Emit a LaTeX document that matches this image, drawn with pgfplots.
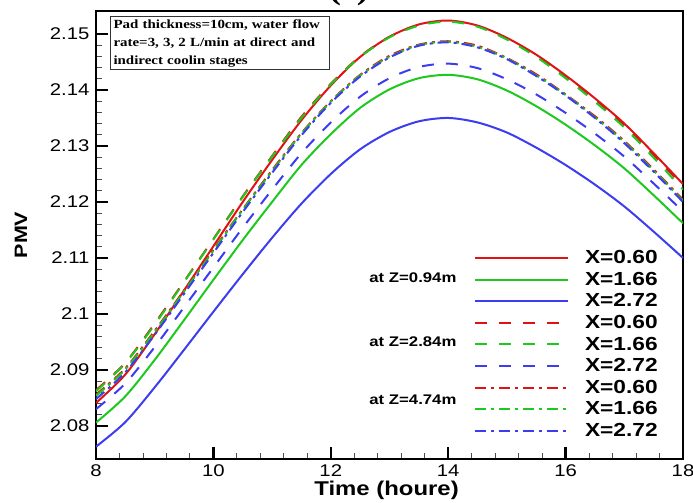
\documentclass[border=0pt]{standalone}
\usepackage{pgfplots}
\pgfplotsset{compat=1.18}
\usepackage{pgfplotstable}
\usepackage{fontspec}
\setmainfont{Liberation Sans}[FakeStretch=1.2]
\newfontfamily\boxserif{Liberation Serif}[FakeStretch=1.2]
\definecolor{cred}{RGB}{222,20,20}
\definecolor{cgreen}{RGB}{30,200,30}
\definecolor{cblue}{RGB}{60,60,240}
\pgfplotstableread{
t s1 s2 s3 s4 s5 s6 s7 s8 s9
8 2.0841 2.0806 2.0763 2.0864 2.0862 2.0830 2.0856 2.0854 2.0848
8.5 2.0892 2.0853 2.0807 2.0913 2.0912 2.0876 2.0903 2.0901 2.0896
9 2.0964 2.0918 2.0869 2.0983 2.0981 2.0941 2.0970 2.0968 2.0963
9.5 2.1042 2.0989 2.0936 2.1058 2.1057 2.1012 2.1042 2.1040 2.1036
10 2.1121 2.1061 2.1004 2.1134 2.1133 2.1083 2.1115 2.1113 2.1109
10.5 2.1200 2.1132 2.1071 2.1210 2.1209 2.1154 2.1187 2.1186 2.1182
11 2.1275 2.1200 2.1136 2.1282 2.1281 2.1222 2.1257 2.1255 2.1252
11.5 2.1346 2.1266 2.1197 2.1352 2.1350 2.1287 2.1323 2.1322 2.1319
12 2.1408 2.1321 2.1250 2.1411 2.1410 2.1342 2.1380 2.1379 2.1377
12.5 2.1459 2.1368 2.1294 2.1460 2.1459 2.1388 2.1427 2.1426 2.1424
13 2.1495 2.1401 2.1325 2.1495 2.1494 2.1421 2.1461 2.1459 2.1458
13.5 2.1517 2.1421 2.1344 2.1516 2.1515 2.1441 2.1481 2.1480 2.1479
14 2.1524 2.1427 2.1350 2.1523 2.1522 2.1447 2.1487 2.1486 2.1485
14.5 2.1515 2.1419 2.1342 2.1514 2.1513 2.1439 2.1479 2.1477 2.1476
15 2.1493 2.1399 2.1324 2.1492 2.1490 2.1419 2.1457 2.1456 2.1455
15.5 2.1463 2.1371 2.1297 2.1461 2.1459 2.1392 2.1428 2.1426 2.1425
16 2.1426 2.1338 2.1266 2.1424 2.1421 2.1359 2.1392 2.1391 2.1390
16.5 2.1385 2.1301 2.1231 2.1383 2.1379 2.1322 2.1353 2.1351 2.1350
17 2.1340 2.1260 2.1192 2.1337 2.1333 2.1281 2.1309 2.1307 2.1305
17.5 2.1287 2.1212 2.1147 2.1284 2.1279 2.1233 2.1258 2.1256 2.1254
18 2.1232 2.1162 2.1100 2.1228 2.1222 2.1183 2.1204 2.1202 2.1200
}\data
\begin{document}
\begin{tikzpicture}
\begin{axis}[
  scale only axis,
  width=587bp, height=448bp,
  xmin=8, xmax=18, ymin=2.0741, ymax=2.1541,
  xtick={8,10,...,18},
  ytick={2.08,2.09,2.1,2.11,2.12,2.13,2.14,2.15},
  minor x tick num=4, minor y tick num=4,
  tick align=inside,
  xtick pos=bottom, ytick pos=left,
  major tick length=12bp, minor tick length=6bp,
  every major tick/.append style={line width=2.4bp, black},
  every minor tick/.append style={line width=0.9bp, black!70},
  axis line style={line width=2bp},
  /pgf/number format/assume math mode=true,
  /pgf/number format/precision=3,
  tick label style={font=\fontsize{17}{17}\selectfont},
  yticklabel style={xshift=-3bp},
  xticklabel style={yshift=-2bp},
  xlabel={\textbf{Time (houre)}},
  ylabel={\textbf{PMV}},
  xlabel style={font=\fontsize{20}{20}\selectfont, at={(axis description cs:0.495,-0.0815)}, anchor=base},
  ylabel style={font=\fontsize{18}{18}\selectfont, at={(axis description cs:-0.1278,0.5)}, anchor=center},
  title={\boxserif\bfseries (c)},
  title style={font=\fontsize{30}{30}\selectfont, at={(axis description cs:0.431,1)}, anchor=base, yshift=6bp},
  legend style={draw=none, fill=none, inner sep=0pt, outer sep=0pt,
    at={(axis description cs:0.644,0.475)}, anchor=north west,
    font=\bfseries\fontsize{19}{19}\selectfont, row sep=0pt,
    nodes={inner sep=0pt, minimum height=21.6bp, text depth=0pt}},
  legend cell align=left,
  legend image code/.code={\draw[#1, line width=2bp] (0bp,-1bp) -- (93bp,-1bp); \path (109bp,0bp);},
  every axis plot/.append style={line width=2bp},
]
\addplot[cred, smooth] table[x=t, y=s1] {\data};
\addlegendentry{X=0.60}
\addplot[cgreen, smooth] table[x=t, y=s2] {\data};
\addlegendentry{X=1.66}
\addplot[cblue, smooth] table[x=t, y=s3] {\data};
\addlegendentry{X=2.72}
\addplot[cred, smooth, dash pattern=on 12bp off 12bp] table[x=t, y=s4] {\data};
\addlegendentry{X=0.60}
\addplot[cgreen, smooth, dash pattern=on 12bp off 12bp] table[x=t, y=s5] {\data};
\addlegendentry{X=1.66}
\addplot[cblue, smooth, dash pattern=on 12bp off 12bp] table[x=t, y=s6] {\data};
\addlegendentry{X=2.72}
\addplot[cred, smooth, dash pattern=on 11bp off 5bp on 3bp off 5bp] table[x=t, y=s7] {\data};
\addlegendentry{X=0.60}
\addplot[cgreen, smooth, dash pattern=on 11bp off 5bp on 3bp off 5bp] table[x=t, y=s8] {\data};
\addlegendentry{X=1.66}
\addplot[cblue, smooth, dash pattern=on 11bp off 5bp on 3bp off 5bp] table[x=t, y=s9] {\data};
\addlegendentry{X=2.72}
\node[anchor=east, font=\bfseries\fontsize{14}{14}\selectfont] at (axis description cs:0.62,0.404) {at Z=0.94m};
\node[anchor=east, font=\bfseries\fontsize{14}{14}\selectfont] at (axis description cs:0.62,0.261) {at Z=2.84m};
\node[anchor=east, font=\bfseries\fontsize{14}{14}\selectfont] at (axis description cs:0.62,0.132) {at Z=4.74m};
\node[anchor=north west, draw=black!80, line width=1bp, fill=white, inner sep=3bp,
  text width=213bp, align=left, font=\boxserif\bfseries\fontsize{12.5}{18}\selectfont]
  at (axis description cs:0.0239,0.989)
  {Pad thickness=10cm, water flow rate=3, 3, 2 L/min at direct and indirect coolin stages};
\end{axis}
\pgfresetboundingbox
\useasboundingbox (-96bp,-44bp) rectangle (597bp,459bp);
\end{tikzpicture}
\end{document}
